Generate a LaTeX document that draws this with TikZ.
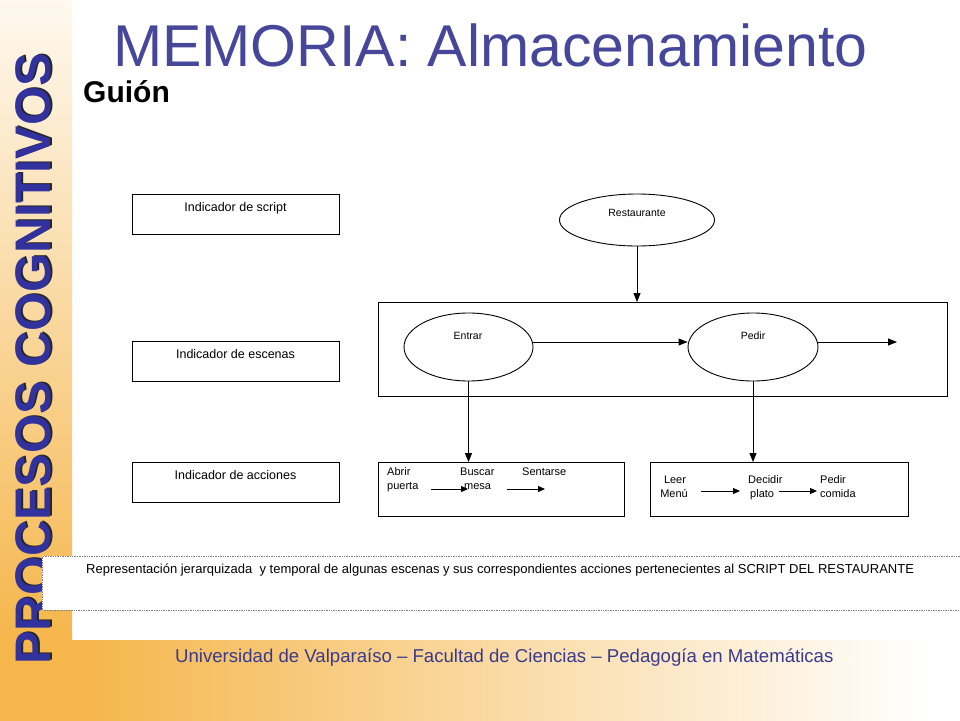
\documentclass[tikz,border=0pt]{standalone}
\usepackage{fontspec}
\setmainfont{Liberation Sans}
\usetikzlibrary{shapes.geometric,arrows.meta}
\definecolor{orng}{RGB}{245,182,76}
\definecolor{ttlblue}{RGB}{70,70,155}
\definecolor{vblue}{RGB}{50,50,158}
\definecolor{footblue}{RGB}{58,58,140}
\begin{document}
\begin{tikzpicture}[x=1pt,y=1pt,
  lblbox/.style={draw=black, line width=0.9pt, minimum width=207pt, minimum height=40pt, inner sep=0pt, anchor=north west},
  lbltext/.style={font=\fontsize{12.5}{14}\selectfont, anchor=base},
  oval/.style={draw=black, line width=0.9pt, ellipse, inner sep=0pt},
  ovaltext/.style={font=\fontsize{10.5}{12}\selectfont, anchor=base},
  actbox/.style={draw=black, line width=0.9pt, inner sep=0pt, anchor=north west},
  acttext/.style={font=\fontsize{11}{14}\selectfont, anchor=base west, inner sep=0pt},
  bigarrow/.style={draw=black, line width=0.9pt, -{Triangle[length=9pt,width=7pt]}},
  smallarrow/.style={draw=black, line width=0.9pt, -{Triangle[length=7pt,width=6pt]}}
]
\useasboundingbox (0,0) rectangle (960,-720);
% background
\fill[white] (-5,5) rectangle (965,-725);
\shade[top color=white!92!orng, bottom color=orng] (-5,5) rectangle (72,-640);
\fill[orng] (-5,-640) rectangle (80,-725);
\shade[left color=orng, right color=white] (80,-640) rectangle (930,-725);
\fill[white] (930,-640) rectangle (965,-725);

% vertical text
\node[rotate=90, anchor=base west, inner sep=0pt, text=black!85, font=\fontsize{50}{50}\bfseries\selectfont] (vtshadow) at (52,-664) {PROCESOS COGNITIVOS};
\node[rotate=90, anchor=base west, inner sep=0pt, text=vblue, font=\fontsize{50}{50}\bfseries\selectfont] (vt) at (50,-665) {PROCESOS COGNITIVOS};

% title
\node[anchor=base west, inner sep=0pt, text=ttlblue, font=\fontsize{59}{60}\selectfont] (title) at (113,-66) {MEMORIA: Almacenamiento};
\node[anchor=base west, inner sep=0pt, font=\fontsize{30}{32}\bfseries\selectfont] (guion) at (83,-102) {Guión};

% left indicator boxes
\node[lblbox] (iscript) at (132,-194) {};
\node[lbltext] at (235.5,-211) {Indicador de script};
\node[lblbox] (iescenas) at (132,-341) {};
\node[lbltext] at (235.5,-358) {Indicador de escenas};
\node[lblbox] (iacciones) at (132,-462) {};
\node[lbltext] at (235.5,-479) {Indicador de acciones};

% script ellipse
\node[oval, minimum width=155pt, minimum height=52pt] (rest) at (637,-220) {};
\node[ovaltext] at (637,-216) {Restaurante};

% scene box
\node[actbox, minimum width=569pt, minimum height=94pt] (scenes) at (378,-302) {};
\node[oval, minimum width=129pt, minimum height=68pt] (entrar) at (468.5,-347) {};
\node[ovaltext] at (468,-339) {Entrar};
\node[oval, minimum width=130pt, minimum height=68pt] (pedir) at (753,-347) {};
\node[ovaltext] at (753,-339) {Pedir};
\coordinate (sceneend) at (897,-342);

\draw[bigarrow] (rest.south) -- (rest.south |- scenes.north);
\draw[bigarrow] (entrar.east |- 0,-342) -- (pedir.west |- 0,-342);
\draw[bigarrow] (pedir.east |- 0,-342) -- (sceneend);

% action boxes
\node[actbox, minimum width=246pt, minimum height=54pt] (act1) at (378,-462) {};
\node[actbox, minimum width=258pt, minimum height=54pt] (act2) at (650,-462) {};

\draw[bigarrow] (entrar.south) -- (entrar.south |- act1.north);
\draw[bigarrow] (pedir.south) -- (pedir.south |- act2.north);

% actions 1
\node[acttext] (abrir) at (387,-475.5) {Abrir};
\node[acttext] (puerta) at (387,-489.5) {puerta};
\node[acttext] (buscar) at (460,-475.5) {Buscar};
\node[acttext] (mesa) at (464,-489.5) {mesa};
\node[acttext] (sentarse) at (522,-475.5) {Sentarse};
\coordinate (a1s) at (431,-489);
\coordinate (a1e) at (468,-489);
\coordinate (a2s) at (507,-489);
\coordinate (a2e) at (545,-489);
\draw[smallarrow] (a1s) -- (a1e);
\draw[smallarrow] (a2s) -- (a2e);

% actions 2
\node[acttext, anchor=base] (leer) at (675,-483) {Leer};
\node[acttext, anchor=base] (menu) at (674,-497) {Menú};
\node[acttext] (decidir) at (748,-483) {Decidir};
\node[acttext] (plato) at (750,-497) {plato};
\node[acttext] (pedir2) at (820,-483) {Pedir};
\node[acttext] (comida) at (820,-497) {comida};
\coordinate (b1s) at (701,-491);
\coordinate (b1e) at (740,-491);
\coordinate (b2s) at (779,-491);
\coordinate (b2e) at (817,-491);
\draw[smallarrow] (b1s) -- (b1e);
\draw[smallarrow] (b2s) -- (b2e);

% caption
\fill[white] (42,-556) rectangle (965,-610);
\draw[gray, densely dotted, line width=0.7pt] (965,-556) -- (42.5,-556) -- (42.5,-610) -- (965,-610);
\node[anchor=base west, inner sep=0pt, font=\fontsize{13}{14}\selectfont] (caption) at (86,-573) {Representación jerarquizada\ \ y temporal de algunas escenas y sus correspondientes acciones pertenecientes al SCRIPT DEL RESTAURANTE};

% footer
\node[anchor=base west, inner sep=0pt, text=footblue, font=\fontsize{18.6}{20}\selectfont] (footer) at (175,-662) {Universidad de Valparaíso – Facultad de Ciencias – Pedagogía en Matemáticas};
\end{tikzpicture}
\end{document}
